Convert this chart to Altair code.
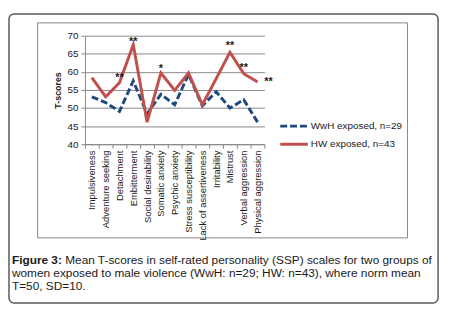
import altair as alt
import pandas as pd

categories = ["Impulsiveness", "Adventure seeking", "Detachment", "Embitterment",
              "Social desirability", "Somatic anxiety", "Psychic anxiety",
              "Stress susceptibility", "Lack of assertiveness", "Irritability",
              "Mistrust", "Verbal aggression", "Physical aggression"]
wwh_values = [53.1, 51.5, 49.1, 57.5, 48.4, 53.8, 50.9, 59.3, 50.6, 54.5, 50.0, 52.3, 46.1]
hw_values = [58.4, 53.1, 57.0, 67.5, 46.1, 59.7, 54.9, 59.7, 50.9, 58.1, 65.4, 59.5, 57.2]
series_names = ["WwH exposed, n=29", "HW exposed, n=43"]
series_colors = ["#1f497d", "#c0504d"]
star_categories = ["Detachment", "Embitterment", "Somatic anxiety", "Mistrust",
                   "Verbal aggression", "Physical aggression"]
star_labels = ["**", "**", "*", "**", "**", "**"]
star_levels = [59.1, 69.0, 61.7, 67.9, 61.8, 58.1]
y_ticks = [40, 45, 50, 55, 60, 65, 70]
caption_bold = "Figure 3:"
caption_lines = [
    "Mean T-scores in self-rated personality (SSP) scales for two groups of",
    "women exposed to male violence (WwH: n=29; HW: n=43), where norm mean",
    "T=50, SD=10.",
]

FONT = "Liberation Sans"
TXT = "#1a1a1a"

rows = []
for name, vals in zip(series_names, [wwh_values, hw_values]):
    for c, v in zip(categories, vals):
        rows.append({"category": c, "series": name, "value": v})
df = pd.DataFrame(rows)

stars = pd.DataFrame({"category": star_categories, "label": star_labels, "level": star_levels})

x_scale = alt.Scale(type="band", paddingInner=0, paddingOuter=0)
x_axis = alt.Axis(title=None, labelAngle=270, tickBand="extent",
                  labelFont=FONT, labelFontSize=9.5, labelColor=TXT,
                  domainColor="#868686", tickColor="#868686",
                  tickSize=4, labelPadding=2)
y_scale = alt.Scale(domain=[40, 70], nice=False, zero=False)
y_axis = alt.Axis(values=y_ticks, title="T-scores", titleFont=FONT,
                  titleFontSize=9, titleFontWeight="bold", titleColor=TXT,
                  titlePadding=5, labelFont=FONT, labelFontSize=10,
                  labelColor=TXT, grid=True, gridColor="#868686",
                  domainColor="#868686", tickColor="#868686",
                  tickSize=4, labelPadding=3, labelOverlap=False)

one = pd.DataFrame({"k": [0]})

outer = alt.Chart(one).mark_rect(filled=False, stroke="#5a5a5a", strokeWidth=1.5,
                                 cornerRadius=5).encode(
    x=alt.value(-77), x2=alt.value(358), y=alt.value(-22), y2=alt.value(271))
inner = alt.Chart(one).mark_rect(filled=False, stroke="#868686", strokeWidth=1).encode(
    x=alt.value(-48), x2=alt.value(327), y=alt.value(-13), y2=alt.value(205))

lines = alt.Chart(df).mark_line(strokeWidth=3).encode(
    x=alt.X("category:N", sort=categories, scale=x_scale, axis=x_axis),
    y=alt.Y("value:Q", scale=y_scale, axis=y_axis),
    color=alt.Color("series:N", scale=alt.Scale(domain=series_names, range=series_colors),
                    legend=None),
    strokeDash=alt.StrokeDash("series:N", scale=alt.Scale(domain=series_names,
                                                          range=[[7, 3], [1, 0]]),
                              legend=None),
)

sx = alt.X("category:N", sort=categories, scale=x_scale, axis=x_axis)
sy = alt.Y("level:Q", scale=y_scale, axis=y_axis)
star_text = alt.Chart(stars).transform_filter(
    alt.datum.category != "Physical aggression"
).mark_text(font=FONT, fontSize=11, fontWeight="bold", color=TXT, baseline="alphabetic", dy=6).encode(
    x=sx, y=sy, text="label:N")
star_text_last = alt.Chart(stars).transform_filter(
    alt.datum.category == "Physical aggression"
).mark_text(font=FONT, fontSize=11, fontWeight="bold", color=TXT, baseline="alphabetic", dy=6, dx=11).encode(
    x=sx, y=sy, text="label:N")

legend_layers = []
for i, (name, col) in enumerate(zip(series_names, series_colors)):
    yy = 91.7 + i * 18.3
    dash = [7, 3] if i == 0 else [1, 0]
    legend_layers.append(alt.Chart(one).mark_rule(color=col, strokeWidth=3, strokeDash=dash).encode(
        x=alt.value(198), x2=alt.value(226), y=alt.value(yy)))
    legend_layers.append(alt.Chart(pd.DataFrame({"t": [name]})).mark_text(
        font=FONT, fontSize=10, color=TXT, align="left", baseline="middle").encode(
        x=alt.value(229), y=alt.value(yy), text="t:N"))

cap_layers = [alt.Chart(pd.DataFrame({"t": [caption_bold]})).mark_text(
    font=FONT, fontSize=12, fontWeight="bold", color=TXT, align="left", baseline="middle").encode(
    x=alt.value(-74), y=alt.value(227), text="t:N")]
for i, line in enumerate(caption_lines):
    cap_layers.append(alt.Chart(pd.DataFrame({"t": [line]})).mark_text(
        font=FONT, fontSize=12, color=TXT, align="left", baseline="middle").encode(
        x=alt.value(-20 if i == 0 else -74), y=alt.value(227 + i * 13.5), text="t:N"))

chart = alt.layer(outer, inner, lines, star_text, star_text_last, *legend_layers, *cap_layers).properties(
    width=182, height=110,
    autosize=alt.AutoSizeParams(type="none"),
    padding={"left": 78, "top": 26, "right": 180, "bottom": 164},
    background="white",
).configure_view(stroke=None)

chart.save("out.html", embed_options={"renderer": "svg", "actions": False})
